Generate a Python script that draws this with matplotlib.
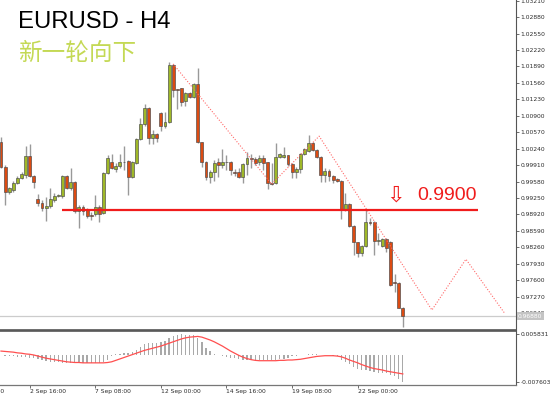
import matplotlib
matplotlib.use('Agg')
import matplotlib.pyplot as plt
import matplotlib.transforms as mtransforms
import numpy as np

# H4 candles (bar index 0 = first visible bar)
opens = [1.0037, 0.9987, 0.9937, 0.9941, 0.9955, 0.9965, 0.9971, 1.0009, 0.9969, 0.9923,
         0.9915, 0.9905, 0.9909, 0.9921, 0.9929, 0.9929, 0.9969, 0.9945, 0.9957, 0.9899,
         0.9907, 0.9901, 0.9891, 0.9893, 0.9907, 0.9895, 0.9975, 0.9997, 0.9983, 0.9989,
         0.9997, 0.9999, 0.9967, 0.9995, 1.0043, 1.0073, 1.0106, 1.0045, 1.0053, 1.0096,
         1.0069, 1.0077, 1.0192, 1.0144, 1.0146, 1.0120, 1.0136, 1.0128, 1.0154, 1.0037,
         0.9997, 0.9967, 0.9977, 0.9997, 0.9991, 0.9997, 0.9997, 0.9977, 0.9977, 0.9967,
         0.9993, 1.0005, 1.0003, 0.9997, 1.0005, 0.9997, 0.9955, 0.9955, 1.0007, 1.0007,
         1.0011, 0.9993, 0.9977, 0.9983, 1.0013, 1.0019, 1.0035, 1.0021, 1.0007, 0.9971,
         0.9979, 0.9969, 0.9963, 0.9959, 0.9901, 0.9913, 0.9869, 0.9837, 0.9814, 0.9828,
         0.9877, 0.9877, 0.9839, 0.9828, 0.9843, 0.9837, 0.9756, 0.9754, 0.9704]
highs = [1.0047, 0.9991, 0.9947, 0.9959, 0.9969, 0.9977, 1.0029, 1.0033, 0.9971, 0.9933,
         0.9921, 0.9927, 0.9945, 0.9935, 0.9933, 0.9971, 0.9971, 0.9985, 0.9959, 0.9911,
         0.9911, 0.9905, 0.9897, 0.9931, 0.9911, 0.9977, 1.0011, 1.0013, 0.9995, 1.0013,
         1.0029, 1.0001, 0.9999, 1.0045, 1.0085, 1.0114, 1.0108, 1.0061, 1.0055, 1.0098,
         1.0098, 1.0198, 1.0194, 1.0144, 1.0146, 1.0138, 1.0138, 1.0156, 1.0186, 1.0037,
         0.9999, 0.9981, 1.0001, 1.0005, 1.0023, 1.0011, 0.9999, 0.9983, 0.9985, 0.9995,
         1.0017, 1.0013, 1.0007, 1.0011, 1.0011, 0.9997, 0.9995, 1.0035, 1.0015, 1.0027,
         1.0011, 0.9995, 0.9987, 1.0015, 1.0025, 1.0051, 1.0037, 1.0023, 1.0009, 0.9985,
         0.9983, 0.9971, 0.9965, 0.9961, 0.9935, 0.9915, 0.9871, 0.9837, 0.9830, 0.9901,
         0.9885, 0.9879, 0.9855, 0.9845, 0.9845, 0.9839, 0.9772, 0.9756, 0.9706]
lows = [0.9985, 0.9911, 0.9933, 0.9937, 0.9953, 0.9963, 0.9965, 0.9967, 0.9945, 0.9909,
        0.9899, 0.9879, 0.9905, 0.9917, 0.9927, 0.9925, 0.9943, 0.9941, 0.9895, 0.9865,
        0.9891, 0.9885, 0.9881, 0.9889, 0.9877, 0.9893, 0.9973, 0.9983, 0.9977, 0.9985,
        0.9981, 0.9931, 0.9965, 0.9993, 1.0041, 1.0069, 1.0033, 1.0033, 1.0037, 1.0059,
        1.0065, 1.0075, 1.0128, 1.0104, 1.0110, 1.0110, 1.0126, 1.0126, 1.0035, 0.9987,
        0.9961, 0.9955, 0.9959, 0.9967, 0.9985, 0.9981, 0.9971, 0.9969, 0.9965, 0.9955,
        0.9971, 0.9985, 0.9991, 0.9991, 0.9981, 0.9943, 0.9951, 0.9953, 1.0005, 1.0005,
        0.9989, 0.9965, 0.9965, 0.9975, 1.0011, 1.0017, 1.0019, 1.0005, 0.9957, 0.9957,
        0.9959, 0.9955, 0.9957, 0.9883, 0.9899, 0.9867, 0.9810, 0.9806, 0.9808, 0.9826,
        0.9871, 0.9810, 0.9830, 0.9826, 0.9816, 0.9748, 0.9736, 0.9704, 0.9666]
closes = [0.9987, 0.9937, 0.9945, 0.9955, 0.9965, 0.9973, 1.0009, 0.9969, 0.9957, 0.9915,
          0.9905, 0.9909, 0.9923, 0.9929, 0.9930, 0.9969, 0.9945, 0.9957, 0.9899, 0.9907,
          0.9899, 0.9889, 0.9889, 0.9907, 0.9893, 0.9975, 1.0005, 0.9985, 0.9989, 0.9997,
          0.9997, 0.9967, 0.9997, 1.0043, 1.0073, 1.0106, 1.0045, 1.0053, 1.0045, 1.0069,
          1.0077, 1.0192, 1.0142, 1.0142, 1.0118, 1.0136, 1.0128, 1.0154, 1.0037, 0.9997,
          0.9967, 0.9977, 0.9995, 0.9991, 0.9997, 0.9997, 0.9981, 0.9975, 0.9967, 0.9993,
          1.0005, 1.0003, 0.9995, 1.0005, 0.9995, 0.9955, 0.9954, 1.0007, 1.0013, 1.0011,
          0.9993, 0.9977, 0.9983, 1.0013, 1.0023, 1.0035, 1.0021, 1.0007, 0.9971, 0.9979,
          0.9969, 0.9961, 0.9959, 0.9901, 0.9913, 0.9869, 0.9837, 0.9814, 0.9828, 0.9877,
          0.9875, 0.9839, 0.9841, 0.9843, 0.9824, 0.9750, 0.9754, 0.9705, 0.9688]

# MACD panel, in units of 0.001
macd_hist = [-0.1, -0.2, -0.3, -0.4, -0.5, -0.5, -0.5, -0.7, -0.9, -1.1,
             -1.5, -1.8, -1.9, -2.0, -2.0, -2.1, -2.1, -2.2, -2.3, -2.3,
             -2.3, -2.3, -2.3, -2.2, -2.2, -2.0, -1.5, -0.4, 0.2, 0.3,
             0.5, 0.7, 0.9, 1.4, 2.2, 3.0, 3.3, 3.4, 3.5, 3.6,
             3.8, 4.8, 5.3, 5.6, 5.8, 5.7, 5.6, 5.6, 4.8, 3.6,
             2.0, 1.0, 0.2, -0.1, -0.3, -0.5, -0.7, -0.9, -1.1, -1.4,
             -1.4, -1.4, -1.4, -1.4, -1.4, -1.5, -1.5, -1.3, -1.2, -1.0,
             -0.7, -0.4, -0.2, -0.1, 0.1, 0.2, 0.2, 0.2, 0.0, -0.1,
             -0.1, -0.2, -0.4, -1.3, -1.9, -2.6, -3.4, -4.0, -4.2, -4.3,
             -4.5, -4.7, -4.9, -5.0, -5.1, -5.6, -5.9, -6.6, -7.6]
macd_signal = [1.1, 1.0, 0.9, 0.8, 0.6, 0.5, 0.3, 0.2, 0.0, -0.3,
               -0.6, -0.9, -1.1, -1.3, -1.5, -1.7, -1.9, -2.0, -2.1, -2.1,
               -2.2, -2.2, -2.2, -2.2, -2.2, -2.2, -2.1, -1.9, -1.5, -1.1,
               -0.7, -0.3, 0.1, 0.5, 0.9, 1.3, 1.6, 1.9, 2.2, 2.5,
               2.9, 3.3, 3.7, 4.1, 4.5, 4.8, 5.0, 5.1, 5.2, 5.0,
               4.6, 4.2, 3.7, 3.1, 2.5, 1.8, 1.1, 0.5, -0.1, -0.6,
               -1.0, -1.3, -1.5, -1.6, -1.6, -1.6, -1.6, -1.6, -1.5, -1.5,
               -1.4, -1.4, -1.3, -1.2, -1.0, -0.8, -0.6, -0.4, -0.3, -0.2,
               -0.2, -0.2, -0.3, -0.5, -0.9, -1.4, -1.8, -2.2, -2.7, -3.1,
               -3.5, -3.8, -4.0, -4.2, -4.5, -4.7, -4.9, -5.1, -5.3]

price_ticks = [1.03210, 1.02880, 1.02550, 1.02220, 1.01890, 1.01560, 1.01230, 1.00900,
               1.00570, 1.00240, 0.99910, 0.99580, 0.99250, 0.98920, 0.98590, 0.98260,
               0.97930, 0.97600, 0.97270, 0.96940]
macd_ticks = [0.005831, -0.007603]
date_ticks = [7, 23, 39, 55, 71, 87]
date_labels = ['2 Sep 16:00', '7 Sep 08:00', '12 Sep 00:00', '14 Sep 16:00',
               '19 Sep 08:00', '22 Sep 00:00']
first_date = (-9, '31 Aug 00:00')

current_price = 0.96880
level = 0.9900
level_span = (15, 116.3)
# hand drawn dotted projection (bar index, price)
proj_x = [42, 66, 77.6, 105.1, 113.4, 122.8]
proj_y = [1.0194, 0.9953, 1.0049, 0.9700, 0.9802, 0.9694]

BULL = '#9fb828'
BEAR = '#dc4b12'
TXT = '#2a2a2a'

fig = plt.figure(figsize=(5.54, 3.96), dpi=100)
ax = fig.add_axes([0, 66 / 396, 516 / 554, 330 / 396])
ax2 = fig.add_axes([0, 11 / 396, 516 / 554, 54 / 396])
xlim = (-1 / 4.1, -1 / 4.1 + 516 / 4.1)

# candles
x = np.arange(len(opens))
o, h, l, c = map(np.array, (opens, highs, lows, closes))
ax.vlines(x, l, h, color='#999999', lw=1.0, zorder=2)
up = c >= o
body_low = np.minimum(o, c)
body_h = np.maximum(np.abs(c - o), 0.00004)
ax.bar(x[up], body_h[up], bottom=body_low[up], width=0.72, color=BULL,
       edgecolor='#4a4a4a', linewidth=0.45, zorder=3)
ax.bar(x[~up], body_h[~up], bottom=body_low[~up], width=0.72, color=BEAR,
       edgecolor='#4a4a4a', linewidth=0.45, zorder=3)

ax.axhline(current_price, color='#cccccc', lw=0.9, zorder=1)
ax.hlines(level, *level_span, color='#f01c1c', lw=1.6, zorder=5)
ax.plot(proj_x, proj_y, color='#ff6a6a', lw=0.8, ls=(0, (1, 1.5)), zorder=4)

ax.set_xlim(*xlim)
ax.set_ylim(0.96599, 1.03224)
ax.set_xticks([])
for s in ('left', 'top'):
    ax.spines[s].set_visible(False)
ax.spines['right'].set_color('#555555')
ax.spines['right'].set_linewidth(0.8)
ax.spines['bottom'].set_color('#555555')
ax.spines['bottom'].set_linewidth(1.2)
ax.yaxis.tick_right()
ax.set_yticks(price_ticks)
ax.set_yticklabels([f'{v:.5f}' for v in price_ticks])
ax.tick_params(axis='y', direction='out', length=2, width=0.6, pad=1.2,
               labelsize=4.3, colors='#555555', labelcolor=TXT)

# current price tag
tr = mtransforms.blended_transform_factory(ax.transAxes, ax.transData)
ax.text(1.004, current_price, f'{current_price:.5f}', transform=tr, fontsize=4.3,
        color='white', va='center', ha='left', zorder=6,
        bbox=dict(boxstyle='square,pad=0.25', fc='#c4c4c4', ec='none'))

# MACD
ax2.bar(x, np.array(macd_hist) * 0.001, width=0.3, color='#a9a9a9', zorder=2)
ax2.plot(x, np.array(macd_signal) * 0.001, color='#ff4f4f', lw=0.9, zorder=3)
ax2.set_xlim(*xlim)
ax2.set_ylim(-0.0084, 0.00672)
ax2.spines['left'].set_visible(False)
ax2.spines['top'].set_color('#555555')
ax2.spines['top'].set_linewidth(1.2)
ax2.spines['right'].set_color('#555555')
ax2.spines['right'].set_linewidth(0.8)
ax2.spines['bottom'].set_color('#777777')
ax2.spines['bottom'].set_linewidth(0.9)
ax2.yaxis.tick_right()
ax2.set_yticks(macd_ticks)
ax2.set_yticklabels([f'{v:.6f}' for v in macd_ticks])
ax2.set_xticks(date_ticks)
ax2.set_xticklabels(date_labels)
for t in ax2.get_xticklabels():
    t.set_horizontalalignment('left')
ax2.tick_params(axis='both', direction='out', length=2, width=0.6, pad=1.2,
                labelsize=4.3, colors='#555555', labelcolor=TXT)
trx = mtransforms.blended_transform_factory(ax2.transData, fig.transFigure)
ax2.text(first_date[0], 1 - 391 / 396, first_date[1], transform=trx, fontsize=4.3,
         color=TXT, ha='left', va='center', clip_on=False)

# titles and annotation
fig.text(18 / 554, 1 - 28 / 396, 'EURUSD - H4', fontsize=17.2, family='Liberation Sans',
         color='black', ha='left', va='baseline')
fig.text(18 / 554, 1 - 54 / 396, '新一轮向下', fontsize=17, family=['Noto Sans CJK SC'],
         color='#c4d955', ha='left', va='center')
fig.text(417 / 554, 1 - 195 / 396, '0.9900', fontsize=14, family='Liberation Sans',
         color='#f01c1c', ha='left', va='center')
fig.text(395.5 / 554, 1 - 195.5 / 396, '⇩', fontsize=16, family='DejaVu Sans',
         color='#f01c1c', ha='center', va='center')

fig.savefig('out.png', dpi=100)
